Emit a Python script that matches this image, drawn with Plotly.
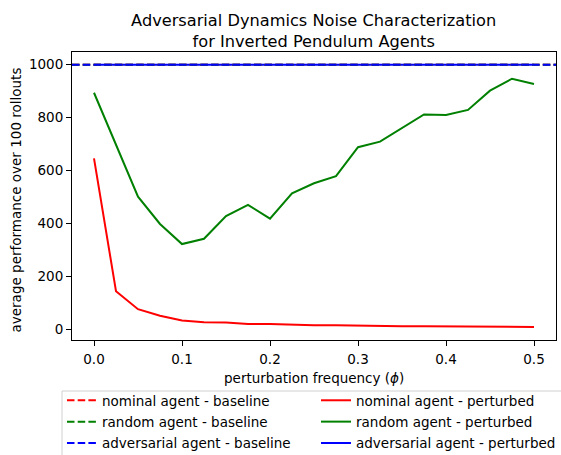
import plotly.graph_objects as go

phi = [0.0, 0.025, 0.05, 0.075, 0.1, 0.125, 0.15, 0.175, 0.2, 0.225, 0.25,
       0.275, 0.3, 0.325, 0.35, 0.375, 0.4, 0.425, 0.45, 0.475, 0.5]
nominal_perturbed = [646, 144, 76, 51, 33, 27, 26, 20, 20, 17, 15,
                     15, 13, 12, 11, 11, 11, 11, 10, 10, 9]
random_perturbed = [894, 698, 501, 398, 322, 342, 428, 470, 418, 514, 552,
                    579, 688, 709, 760, 812, 810, 829, 902, 947, 927]
adversarial_perturbed = [1000] * len(phi)
nominal_baseline = 1000
random_baseline = 1000
adversarial_baseline = 1000

x_range = [-0.025, 0.525]
y_range = [-40.5, 1048]
x_ticks = [0.0, 0.1, 0.2, 0.3, 0.4, 0.5]
y_ticks = [0, 200, 400, 600, 800, 1000]

FONT = "DejaVu Sans"
FS = 13.5
W, H = 561, 455
ML, MR, MT, MB = 72, 5, 52, 115
PW, PH = W - ML - MR, H - MT - MB

fig = go.Figure()

def add_base(val, color, name, grp):
    fig.add_trace(go.Scatter(x=x_range, y=[val, val], mode="lines", name=name,
                             legend="legend", legendgroup=grp,
                             line=dict(color=color, width=2, dash="7.5px,3.2px")))

def add_pert(vals, color, name, grp):
    fig.add_trace(go.Scatter(x=phi, y=vals, mode="lines", name=name,
                             legend="legend2", legendgroup=grp,
                             line=dict(color=color, width=2)))

add_pert(nominal_perturbed, "red", "nominal agent - perturbed", "p1")
add_pert(random_perturbed, "green", "random agent - perturbed", "p2")
add_pert(adversarial_perturbed, "blue", "adversarial agent - perturbed", "p3")
add_base(nominal_baseline, "red", "nominal agent - baseline", "b1")
add_base(random_baseline, "green", "random agent - baseline", "b2")
add_base(adversarial_baseline, "blue", "adversarial agent - baseline", "b3")

axis_common = dict(showline=True, linecolor="black", linewidth=1, mirror=True,
                   ticks="outside", ticklen=5, tickcolor="black", tickwidth=1,
                   showgrid=False, zeroline=False,
                   tickfont=dict(family=FONT, size=FS, color="black"))

fig.update_xaxes(range=x_range, tickvals=x_ticks, ticklabelstandoff=2,
                 ticktext=[f"{v:.1f}" for v in x_ticks], **axis_common)
fig.update_yaxes(range=y_range, tickvals=y_ticks, **axis_common)

def px2paper_x(px):
    return (px - ML) / PW

def px2paper_y(py):
    return (H - MB - py) / PH

legend_common = dict(orientation="v", xref="container", yref="container",
                     xanchor="left", yanchor="top", borderwidth=0,
                     bgcolor="rgba(0,0,0,0)", tracegroupgap=0.8,
                     font=dict(family=FONT, size=FS, color="black"),
                     traceorder="grouped")

fig.update_layout(
    width=W, height=H,
    margin=dict(l=ML, r=MR, t=MT, b=MB, autoexpand=False),
    paper_bgcolor="white", plot_bgcolor="white",
    title=dict(text="Adversarial Dynamics Noise Characterization<br>for Inverted Pendulum Agents",
               x=px2paper_x(313.7), xref="paper", xanchor="center",
               y=1 - 26 / H, yref="container", yanchor="top",
               font=dict(family=FONT, size=16.2, color="black")),
    legend=dict(x=62 / W, y=1 - 385 / H, **legend_common),
    legend2=dict(x=316 / W, y=1 - 385 / H, **legend_common),
    showlegend=True,
    annotations=[
        dict(text="perturbation frequency (<i>ϕ</i>)", xref="paper", yref="paper",
             x=0.5, y=px2paper_y(377.5), xanchor="center", yanchor="middle",
             showarrow=False, font=dict(family=FONT, size=FS, color="black")),
        dict(text="average performance over 100 rollouts", xref="paper", yref="paper",
             x=px2paper_x(15.5), y=px2paper_y(200), xanchor="center", yanchor="middle",
             textangle=-90, showarrow=False,
             font=dict(family=FONT, size=FS, color="black")),
    ],
    shapes=[dict(type="rect", xref="paper", yref="paper",
                 x0=px2paper_x(62), x1=px2paper_x(575),
                 y0=px2paper_y(391), y1=px2paper_y(470),
                 line=dict(color="#d0d0d0", width=1), fillcolor="rgba(0,0,0,0)",
                 layer="below")],
)

fig.write_html("out.html")
